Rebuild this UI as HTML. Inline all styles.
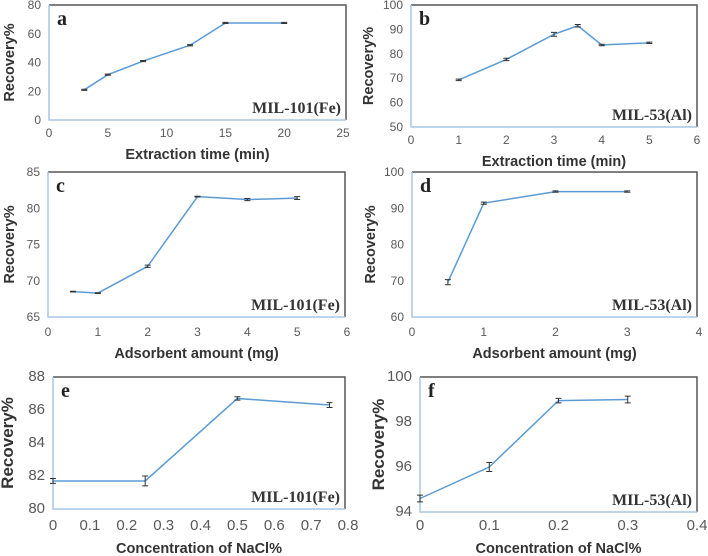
<!DOCTYPE html>
<html><head><meta charset="utf-8"><style>
html,body{margin:0;padding:0;background:#fff;}
svg{display:block;}
.tk{font-family:"Liberation Sans",sans-serif;font-size:12px;fill:#595959;}
.tt{font-family:"Liberation Sans",sans-serif;font-size:14.5px;font-weight:bold;fill:#333;}
.pl{font-family:"Liberation Serif",serif;font-size:20px;font-weight:bold;fill:#222;}
.ml{font-family:"Liberation Serif",serif;font-size:16px;font-weight:bold;fill:#333;}
</style></head><body>
<svg id="fig" width="708" height="556" viewBox="0 0 708 556"></svg>
<script>
const aX=[3,5,8,12,15,20];const aY=[21,31.5,41,52,67.5,67.5];const aE=[0.4,0.4,0.4,0.4,0.4,0.4];
const bX=[1,2,3,3.5,4,5];const bY=[69.3,77.7,88,91.5,83.6,84.5];const bE=[0.3,0.5,0.8,0.5,0.3,0.3];
const cX=[0.5,1,2,3,4,5];const cY=[68.5,68.3,72,81.6,81.2,81.4];const cE=[0.05,0.05,0.15,0.05,0.15,0.2];
const dX=[0.5,1,2,3];const dY=[69.6,91.4,94.6,94.6];const dE=[0.7,0.3,0.2,0.2];
const eX=[0,0.25,0.5,0.75];const eY=[81.7,81.7,86.7,86.3];const eE=[0.15,0.3,0.1,0.15];
const fX=[0,0.1,0.2,0.3];const fY=[94.6,96,98.95,99];const fE=[0.15,0.2,0.1,0.15];
const aXT=["0","5","10","15","20","25"];const aYT=["0","20","40","60","80"];
const bXT=["0","1","2","3","4","5","6"];const bYT=["50","60","70","80","90","100"];
const cXT=["0","1","2","3","4","5","6"];const cYT=["65","70","75","80","85"];
const dXT=["0","1","2","3","4"];const dYT=["60","70","80","90","100"];
const eXT=["0","0.1","0.2","0.3","0.4","0.5","0.6","0.7","0.8"];const eYT=["80","82","84","86","88"];
const fXT=["0","0.1","0.2","0.3","0.4"];const fYT=["94","96","98","100"];

const NS="http://www.w3.org/2000/svg";
const svg=document.getElementById('fig');
function mk(tag,attrs,parent,txt){const e=document.createElementNS(NS,tag);for(const k in attrs)e.setAttribute(k,attrs[k]);if(txt!==undefined)e.textContent=txt;(parent||svg).appendChild(e);return e;}

function panel(p){
  const g=mk('g',{});
  
  
  const xmin=+p.xt[0],xmax=+p.xt[p.xt.length-1],ymin=+p.yt[0],ymax=+p.yt[p.yt.length-1];
  const sx=v=>p.x0+(v-xmin)/(xmax-xmin)*(p.x1-p.x0);
  const sy=v=>p.yb+(v-ymin)/(ymax-ymin)*(p.yt0-p.yb);
  const top=mk('path',{d:`M${p.bl} ${p.yt0}H${p.br}V${p.yb}`,fill:'none',stroke:'#555','stroke-width':1.5},g);
  
  const ax=mk('path',{d:`M${p.bl} ${p.yt0}V${p.yb}H${p.br}`,fill:'none',stroke:'#a9c6e3','stroke-width':1.5},g);
  
  p.xt.forEach(t=>{const e=mk('text',{x:sx(+t),y:p.tky,'text-anchor':'middle',class:'tk',style:p.yfs?`font-size:${p.yfs}px`:''},g,t);
    });
  p.yt.forEach(t=>{const e=mk('text',{x:p.bl-8,y:sy(+t)+4,'text-anchor':'end',class:'tk',style:p.yfs?`font-size:${p.yfs}px`:''},g,t);
    });
  const xt=mk('text',{x:(p.bl+p.br)/2,y:p.tty,'text-anchor':'middle',class:'tt'},g,p.xtitle);
  
  const yc=(p.yt0+p.yb)/2;
  const yt=mk('text',{x:p.ylx,y:yc,'text-anchor':'middle',class:'tt',transform:`rotate(-90 ${p.ylx} ${yc})`,style:p.ylfs?`font-size:${p.ylfs}px`:''},g,'Recovery%');
  
  const pl=mk('text',{x:p.bl+8,y:p.yt0+20,class:'pl'},g,p.letter);
  
  const ml=mk('text',{x:p.br-5,y:p.yb-7,'text-anchor':'end',class:'ml'},g,p.mat);
  
  const pts=p.X.map((v,i)=>sx(v)+','+sy(p.Y[i])).join(' ');
  const ln=mk('polyline',{points:pts,fill:'none',stroke:'#5b9bd5','stroke-width':1.5},g);
  
  p.X.forEach((v,i)=>{const x=sx(v),y1=sy(p.Y[i]+p.E[i]),y2=sy(p.Y[i]-p.E[i]);
    const eb=mk('path',{d:`M${x} ${y1}V${y2}M${x-3} ${y1}H${x+3}M${x-3} ${y2}H${x+3}`,stroke:'#333','stroke-width':1,fill:'none'},g);
    });
}
panel({letter:'a',mat:'MIL-101(Fe)',X:aX,Y:aY,E:aE,xt:aXT,yt:aYT,x0:49,x1:343,bl:49,br:346,yt0:5,yb:120,tky:137,tty:159,ylx:14,xtitle:'Extraction time (min)'});
panel({letter:'b',mat:'MIL-53(Al)',X:bX,Y:bY,E:bE,xt:bXT,yt:bYT,x0:411,x1:697,bl:411,br:697,yt0:5,yb:127,tky:144,tty:166,ylx:373,xtitle:'Extraction time (min)'});
panel({letter:'c',mat:'MIL-101(Fe)',X:cX,Y:cY,E:cE,xt:cXT,yt:cYT,x0:48,x1:347,bl:48,br:345,yt0:172,yb:317,tky:336,tty:358,ylx:14,xtitle:'Adsorbent amount (mg)'});
panel({letter:'d',mat:'MIL-53(Al)',X:dX,Y:dY,E:dE,xt:dXT,yt:dYT,x0:412,x1:699,bl:412,br:697,yt0:172,yb:317,tky:336,tty:358,ylx:375,xtitle:'Adsorbent amount (mg)'});
panel({letter:'e',mat:'MIL-101(Fe)',X:eX,Y:eY,E:eE,xt:eXT,yt:eYT,x0:53,x1:348,bl:53,br:345,yt0:377,yb:509,tky:530,tty:553,ylx:13,yfs:15,ylfs:17,xtitle:'Concentration of NaCl%'});
panel({letter:'f',mat:'MIL-53(Al)',X:fX,Y:fY,E:fE,xt:fXT,yt:fYT,x0:420,x1:697,bl:420,br:697,yt0:377,yb:512,tky:530,tty:553,ylx:384,yfs:15,ylfs:17,xtitle:'Concentration of NaCl%'});
</script>
</body></html>
